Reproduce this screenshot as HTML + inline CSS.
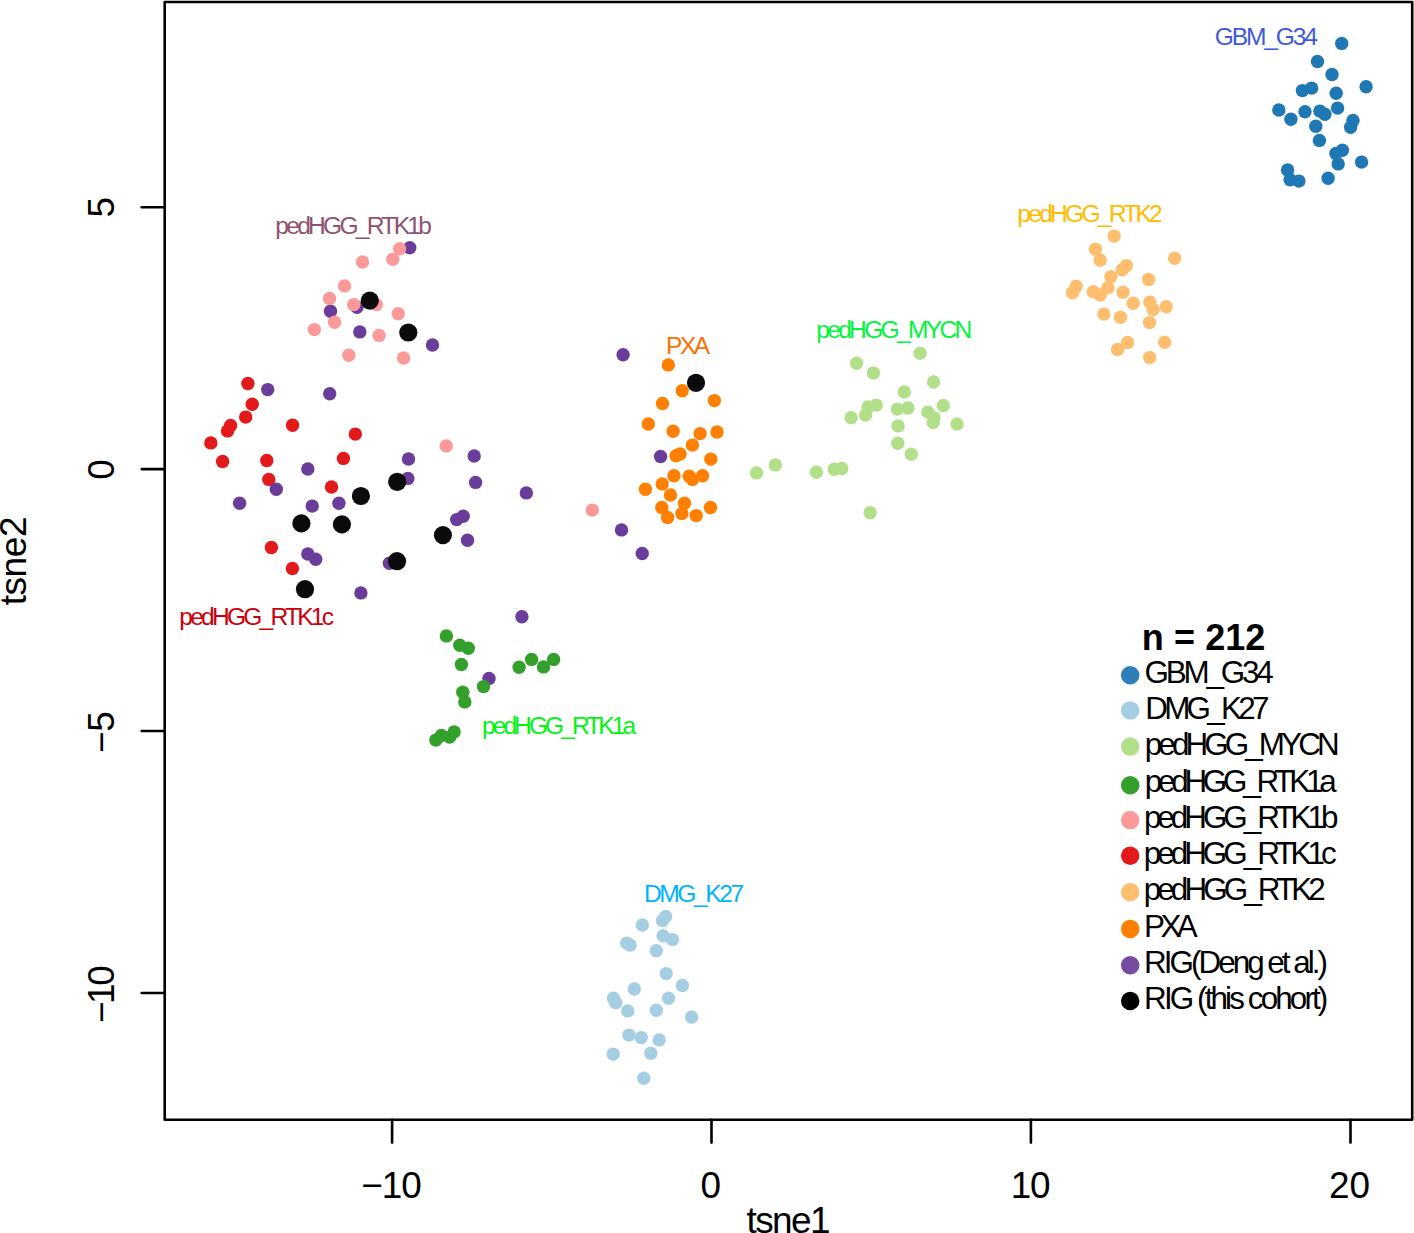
<!DOCTYPE html>
<html><head><meta charset="utf-8"><style>
html,body{margin:0;padding:0;background:#fff;overflow:hidden;}
svg{display:block;}
text{font-family:"Liberation Sans",sans-serif;}
</style></head><body>
<svg width="1414" height="1233" viewBox="0 0 1414 1233">
<rect width="1414" height="1233" fill="#fff"/>
<circle cx="1341.7" cy="43.4" r="6.7" fill="#1F78B4"/><circle cx="1317.5" cy="61.5" r="6.7" fill="#1F78B4"/><circle cx="1332.0" cy="74.5" r="6.7" fill="#1F78B4"/><circle cx="1366.1" cy="86.7" r="6.7" fill="#1F78B4"/><circle cx="1302.4" cy="90.6" r="6.7" fill="#1F78B4"/><circle cx="1311.6" cy="88.1" r="6.7" fill="#1F78B4"/><circle cx="1336.2" cy="93.2" r="6.7" fill="#1F78B4"/><circle cx="1278.8" cy="110.0" r="6.7" fill="#1F78B4"/><circle cx="1290.9" cy="119.3" r="6.7" fill="#1F78B4"/><circle cx="1305.0" cy="111.7" r="6.7" fill="#1F78B4"/><circle cx="1319.9" cy="111.1" r="6.7" fill="#1F78B4"/><circle cx="1324.9" cy="114.3" r="6.7" fill="#1F78B4"/><circle cx="1337.6" cy="108.1" r="6.7" fill="#1F78B4"/><circle cx="1353.0" cy="120.4" r="6.7" fill="#1F78B4"/><circle cx="1350.6" cy="127.3" r="6.7" fill="#1F78B4"/><circle cx="1315.8" cy="126.3" r="6.7" fill="#1F78B4"/><circle cx="1319.4" cy="140.4" r="6.7" fill="#1F78B4"/><circle cx="1335.9" cy="153.5" r="6.7" fill="#1F78B4"/><circle cx="1342.4" cy="150.3" r="6.7" fill="#1F78B4"/><circle cx="1338.2" cy="163.9" r="6.7" fill="#1F78B4"/><circle cx="1361.6" cy="162.1" r="6.7" fill="#1F78B4"/><circle cx="1287.6" cy="169.9" r="6.7" fill="#1F78B4"/><circle cx="1290.1" cy="179.8" r="6.7" fill="#1F78B4"/><circle cx="1298.9" cy="181.1" r="6.7" fill="#1F78B4"/><circle cx="1328.1" cy="178.2" r="6.7" fill="#1F78B4"/><circle cx="665.6" cy="916.5" r="6.7" fill="#A6CEE3"/><circle cx="662.5" cy="920.5" r="6.7" fill="#A6CEE3"/><circle cx="642.3" cy="925.0" r="6.7" fill="#A6CEE3"/><circle cx="663.1" cy="935.7" r="6.7" fill="#A6CEE3"/><circle cx="672.5" cy="939.6" r="6.7" fill="#A6CEE3"/><circle cx="626.6" cy="943.1" r="6.7" fill="#A6CEE3"/><circle cx="630.1" cy="945.1" r="6.7" fill="#A6CEE3"/><circle cx="656.3" cy="950.8" r="6.7" fill="#A6CEE3"/><circle cx="666.2" cy="973.6" r="6.7" fill="#A6CEE3"/><circle cx="682.4" cy="985.5" r="6.7" fill="#A6CEE3"/><circle cx="634.3" cy="989.0" r="6.7" fill="#A6CEE3"/><circle cx="613.5" cy="998.3" r="6.7" fill="#A6CEE3"/><circle cx="615.8" cy="1002.8" r="6.7" fill="#A6CEE3"/><circle cx="668.6" cy="998.3" r="6.7" fill="#A6CEE3"/><circle cx="627.7" cy="1010.9" r="6.7" fill="#A6CEE3"/><circle cx="656.3" cy="1010.2" r="6.7" fill="#A6CEE3"/><circle cx="691.6" cy="1017.1" r="6.7" fill="#A6CEE3"/><circle cx="628.9" cy="1035.1" r="6.7" fill="#A6CEE3"/><circle cx="641.2" cy="1037.6" r="6.7" fill="#A6CEE3"/><circle cx="659.2" cy="1039.9" r="6.7" fill="#A6CEE3"/><circle cx="613.2" cy="1054.1" r="6.7" fill="#A6CEE3"/><circle cx="650.8" cy="1053.3" r="6.7" fill="#A6CEE3"/><circle cx="643.8" cy="1078.2" r="6.7" fill="#A6CEE3"/><circle cx="920.1" cy="353.3" r="6.7" fill="#B2DF8A"/><circle cx="856.6" cy="363.3" r="6.7" fill="#B2DF8A"/><circle cx="873.4" cy="372.9" r="6.7" fill="#B2DF8A"/><circle cx="933.6" cy="382.0" r="6.7" fill="#B2DF8A"/><circle cx="904.3" cy="392.0" r="6.7" fill="#B2DF8A"/><circle cx="876.3" cy="405.1" r="6.7" fill="#B2DF8A"/><circle cx="868.0" cy="407.0" r="6.7" fill="#B2DF8A"/><circle cx="865.6" cy="415.1" r="6.7" fill="#B2DF8A"/><circle cx="851.1" cy="417.7" r="6.7" fill="#B2DF8A"/><circle cx="897.3" cy="409.1" r="6.7" fill="#B2DF8A"/><circle cx="907.9" cy="408.0" r="6.7" fill="#B2DF8A"/><circle cx="943.3" cy="405.5" r="6.7" fill="#B2DF8A"/><circle cx="927.9" cy="412.1" r="6.7" fill="#B2DF8A"/><circle cx="934.0" cy="417.7" r="6.7" fill="#B2DF8A"/><circle cx="933.2" cy="422.6" r="6.7" fill="#B2DF8A"/><circle cx="957.1" cy="423.9" r="6.7" fill="#B2DF8A"/><circle cx="898.1" cy="425.9" r="6.7" fill="#B2DF8A"/><circle cx="897.8" cy="443.3" r="6.7" fill="#B2DF8A"/><circle cx="911.3" cy="454.3" r="6.7" fill="#B2DF8A"/><circle cx="775.3" cy="464.9" r="6.7" fill="#B2DF8A"/><circle cx="756.6" cy="472.9" r="6.7" fill="#B2DF8A"/><circle cx="816.4" cy="472.2" r="6.7" fill="#B2DF8A"/><circle cx="834.3" cy="469.3" r="6.7" fill="#B2DF8A"/><circle cx="841.7" cy="468.5" r="6.7" fill="#B2DF8A"/><circle cx="870.1" cy="512.7" r="6.7" fill="#B2DF8A"/><circle cx="1114.2" cy="236.1" r="6.7" fill="#FDBF6F"/><circle cx="1095.4" cy="249.2" r="6.7" fill="#FDBF6F"/><circle cx="1100.1" cy="260.2" r="6.7" fill="#FDBF6F"/><circle cx="1174.7" cy="258.2" r="6.7" fill="#FDBF6F"/><circle cx="1126.4" cy="265.6" r="6.7" fill="#FDBF6F"/><circle cx="1122.2" cy="269.8" r="6.7" fill="#FDBF6F"/><circle cx="1110.9" cy="276.8" r="6.7" fill="#FDBF6F"/><circle cx="1148.6" cy="279.5" r="6.7" fill="#FDBF6F"/><circle cx="1076.2" cy="286.3" r="6.7" fill="#FDBF6F"/><circle cx="1072.5" cy="292.8" r="6.7" fill="#FDBF6F"/><circle cx="1093.3" cy="291.8" r="6.7" fill="#FDBF6F"/><circle cx="1100.3" cy="295.0" r="6.7" fill="#FDBF6F"/><circle cx="1107.9" cy="287.8" r="6.7" fill="#FDBF6F"/><circle cx="1123.0" cy="292.2" r="6.7" fill="#FDBF6F"/><circle cx="1133.2" cy="303.3" r="6.7" fill="#FDBF6F"/><circle cx="1149.9" cy="302.2" r="6.7" fill="#FDBF6F"/><circle cx="1153.1" cy="309.6" r="6.7" fill="#FDBF6F"/><circle cx="1166.2" cy="306.7" r="6.7" fill="#FDBF6F"/><circle cx="1103.9" cy="314.1" r="6.7" fill="#FDBF6F"/><circle cx="1120.5" cy="317.2" r="6.7" fill="#FDBF6F"/><circle cx="1149.5" cy="322.6" r="6.7" fill="#FDBF6F"/><circle cx="1127.6" cy="342.5" r="6.7" fill="#FDBF6F"/><circle cx="1117.6" cy="349.5" r="6.7" fill="#FDBF6F"/><circle cx="1164.7" cy="342.3" r="6.7" fill="#FDBF6F"/><circle cx="1149.7" cy="357.6" r="6.7" fill="#FDBF6F"/><circle cx="668.3" cy="364.9" r="6.7" fill="#FF7F00"/><circle cx="682.2" cy="390.8" r="6.7" fill="#FF7F00"/><circle cx="714.4" cy="400.6" r="6.7" fill="#FF7F00"/><circle cx="662.5" cy="403.5" r="6.7" fill="#FF7F00"/><circle cx="648.3" cy="424.0" r="6.7" fill="#FF7F00"/><circle cx="673.1" cy="431.3" r="6.7" fill="#FF7F00"/><circle cx="700.1" cy="433.6" r="6.7" fill="#FF7F00"/><circle cx="717.0" cy="432.0" r="6.7" fill="#FF7F00"/><circle cx="692.4" cy="445.1" r="6.7" fill="#FF7F00"/><circle cx="676.1" cy="455.8" r="6.7" fill="#FF7F00"/><circle cx="680.0" cy="454.0" r="6.7" fill="#FF7F00"/><circle cx="710.8" cy="459.1" r="6.7" fill="#FF7F00"/><circle cx="674.0" cy="475.7" r="6.7" fill="#FF7F00"/><circle cx="689.2" cy="476.2" r="6.7" fill="#FF7F00"/><circle cx="692.4" cy="479.4" r="6.7" fill="#FF7F00"/><circle cx="702.5" cy="475.7" r="6.7" fill="#FF7F00"/><circle cx="662.2" cy="483.9" r="6.7" fill="#FF7F00"/><circle cx="645.4" cy="489.3" r="6.7" fill="#FF7F00"/><circle cx="670.5" cy="495.0" r="6.7" fill="#FF7F00"/><circle cx="661.8" cy="507.5" r="6.7" fill="#FF7F00"/><circle cx="684.5" cy="503.2" r="6.7" fill="#FF7F00"/><circle cx="681.9" cy="513.4" r="6.7" fill="#FF7F00"/><circle cx="667.6" cy="517.5" r="6.7" fill="#FF7F00"/><circle cx="696.2" cy="515.6" r="6.7" fill="#FF7F00"/><circle cx="710.5" cy="507.5" r="6.7" fill="#FF7F00"/><circle cx="247.9" cy="383.5" r="6.7" fill="#E31A1C"/><circle cx="252.2" cy="404.3" r="6.7" fill="#E31A1C"/><circle cx="245.7" cy="417.1" r="6.7" fill="#E31A1C"/><circle cx="230.6" cy="425.5" r="6.7" fill="#E31A1C"/><circle cx="227.5" cy="430.9" r="6.7" fill="#E31A1C"/><circle cx="292.6" cy="425.2" r="6.7" fill="#E31A1C"/><circle cx="210.8" cy="442.9" r="6.7" fill="#E31A1C"/><circle cx="222.6" cy="461.5" r="6.7" fill="#E31A1C"/><circle cx="266.8" cy="460.5" r="6.7" fill="#E31A1C"/><circle cx="343.4" cy="458.4" r="6.7" fill="#E31A1C"/><circle cx="268.8" cy="479.4" r="6.7" fill="#E31A1C"/><circle cx="331.5" cy="487.0" r="6.7" fill="#E31A1C"/><circle cx="355.3" cy="434.1" r="6.7" fill="#E31A1C"/><circle cx="271.4" cy="547.5" r="6.7" fill="#E31A1C"/><circle cx="292.4" cy="568.5" r="6.7" fill="#E31A1C"/><circle cx="409.8" cy="247.8" r="6.7" fill="#6A3D9A"/><circle cx="330.5" cy="311.2" r="6.7" fill="#6A3D9A"/><circle cx="357.0" cy="307.2" r="6.7" fill="#6A3D9A"/><circle cx="359.8" cy="331.9" r="6.7" fill="#6A3D9A"/><circle cx="432.5" cy="345.0" r="6.7" fill="#6A3D9A"/><circle cx="267.7" cy="389.6" r="6.7" fill="#6A3D9A"/><circle cx="329.7" cy="393.8" r="6.7" fill="#6A3D9A"/><circle cx="307.8" cy="469.0" r="6.7" fill="#6A3D9A"/><circle cx="276.3" cy="489.3" r="6.7" fill="#6A3D9A"/><circle cx="239.6" cy="503.3" r="6.7" fill="#6A3D9A"/><circle cx="312.2" cy="506.1" r="6.7" fill="#6A3D9A"/><circle cx="338.9" cy="503.3" r="6.7" fill="#6A3D9A"/><circle cx="408.5" cy="459.0" r="6.7" fill="#6A3D9A"/><circle cx="474.2" cy="456.0" r="6.7" fill="#6A3D9A"/><circle cx="407.9" cy="478.4" r="6.7" fill="#6A3D9A"/><circle cx="475.6" cy="482.4" r="6.7" fill="#6A3D9A"/><circle cx="463.2" cy="516.2" r="6.7" fill="#6A3D9A"/><circle cx="456.7" cy="519.6" r="6.7" fill="#6A3D9A"/><circle cx="467.5" cy="540.2" r="6.7" fill="#6A3D9A"/><circle cx="389.4" cy="563.2" r="6.7" fill="#6A3D9A"/><circle cx="360.9" cy="592.9" r="6.7" fill="#6A3D9A"/><circle cx="307.8" cy="554.0" r="6.7" fill="#6A3D9A"/><circle cx="315.7" cy="559.2" r="6.7" fill="#6A3D9A"/><circle cx="521.9" cy="616.7" r="6.7" fill="#6A3D9A"/><circle cx="489.0" cy="678.5" r="6.7" fill="#6A3D9A"/><circle cx="623.1" cy="354.7" r="6.7" fill="#6A3D9A"/><circle cx="526.3" cy="492.9" r="6.7" fill="#6A3D9A"/><circle cx="621.5" cy="529.9" r="6.7" fill="#6A3D9A"/><circle cx="642.2" cy="553.5" r="6.7" fill="#6A3D9A"/><circle cx="660.6" cy="456.5" r="6.7" fill="#6A3D9A"/><circle cx="399.6" cy="248.7" r="6.7" fill="#FB9A99"/><circle cx="392.8" cy="259.2" r="6.7" fill="#FB9A99"/><circle cx="362.5" cy="262.0" r="6.7" fill="#FB9A99"/><circle cx="344.5" cy="285.9" r="6.7" fill="#FB9A99"/><circle cx="329.5" cy="298.5" r="6.7" fill="#FB9A99"/><circle cx="334.6" cy="322.2" r="6.7" fill="#FB9A99"/><circle cx="353.8" cy="304.6" r="6.7" fill="#FB9A99"/><circle cx="376.3" cy="304.6" r="6.7" fill="#FB9A99"/><circle cx="398.2" cy="313.8" r="6.7" fill="#FB9A99"/><circle cx="314.4" cy="329.6" r="6.7" fill="#FB9A99"/><circle cx="379.1" cy="335.4" r="6.7" fill="#FB9A99"/><circle cx="348.8" cy="355.3" r="6.7" fill="#FB9A99"/><circle cx="403.6" cy="358.0" r="6.7" fill="#FB9A99"/><circle cx="446.2" cy="445.9" r="6.7" fill="#FB9A99"/><circle cx="592.3" cy="510.1" r="6.7" fill="#FB9A99"/><circle cx="446.4" cy="635.9" r="6.7" fill="#33A02C"/><circle cx="459.8" cy="645.3" r="6.7" fill="#33A02C"/><circle cx="468.3" cy="648.3" r="6.7" fill="#33A02C"/><circle cx="461.4" cy="664.5" r="6.7" fill="#33A02C"/><circle cx="519.1" cy="667.2" r="6.7" fill="#33A02C"/><circle cx="531.6" cy="659.4" r="6.7" fill="#33A02C"/><circle cx="543.5" cy="666.9" r="6.7" fill="#33A02C"/><circle cx="553.6" cy="659.4" r="6.7" fill="#33A02C"/><circle cx="483.5" cy="686.6" r="6.7" fill="#33A02C"/><circle cx="462.8" cy="692.2" r="6.7" fill="#33A02C"/><circle cx="464.8" cy="701.9" r="6.7" fill="#33A02C"/><circle cx="435.8" cy="740.1" r="6.7" fill="#33A02C"/><circle cx="441.3" cy="735.4" r="6.7" fill="#33A02C"/><circle cx="449.6" cy="737.1" r="6.7" fill="#33A02C"/><circle cx="454.1" cy="732.0" r="6.7" fill="#33A02C"/><circle cx="696.0" cy="382.8" r="9.1" fill="#0B0A0D"/><circle cx="369.8" cy="300.6" r="9.1" fill="#0B0A0D"/><circle cx="408.3" cy="332.5" r="9.1" fill="#0B0A0D"/><circle cx="397.2" cy="481.8" r="9.1" fill="#0B0A0D"/><circle cx="360.9" cy="496.0" r="9.1" fill="#0B0A0D"/><circle cx="301.4" cy="523.4" r="9.1" fill="#0B0A0D"/><circle cx="341.9" cy="524.4" r="9.1" fill="#0B0A0D"/><circle cx="442.9" cy="535.1" r="9.1" fill="#0B0A0D"/><circle cx="397.0" cy="561.2" r="9.1" fill="#0B0A0D"/><circle cx="305.0" cy="589.2" r="9.1" fill="#0B0A0D"/>
<circle cx="1130.2" cy="675.3" r="9.25" fill="#2E7EBA"/><circle cx="1130.2" cy="710.4" r="9.25" fill="#A6CEE3"/><circle cx="1130.2" cy="746.6" r="9.25" fill="#B2DF8A"/><circle cx="1130.2" cy="785.3" r="9.25" fill="#33A02C"/><circle cx="1130.2" cy="820.1" r="9.25" fill="#FB9A99"/><circle cx="1130.2" cy="855.8" r="9.25" fill="#E31A1C"/><circle cx="1130.2" cy="892.3" r="9.25" fill="#FDBF6F"/><circle cx="1130.2" cy="928.9" r="9.25" fill="#FF7F00"/><circle cx="1130.2" cy="965.2" r="9.25" fill="#764CA0"/><circle cx="1130.2" cy="1001.0" r="9.25" fill="#000000"/>
<rect x="164.7" y="2.0" width="1247.5" height="1117.7" fill="none" stroke="#000" stroke-width="2.6" stroke-linejoin="round"/><line x1="392.1" y1="1119.7" x2="392.1" y2="1142.6" stroke="#000" stroke-width="2.6" stroke-linecap="round"/><line x1="711.5" y1="1119.7" x2="711.5" y2="1142.6" stroke="#000" stroke-width="2.6" stroke-linecap="round"/><line x1="1030.9" y1="1119.7" x2="1030.9" y2="1142.6" stroke="#000" stroke-width="2.6" stroke-linecap="round"/><line x1="1350.5" y1="1119.7" x2="1350.5" y2="1142.6" stroke="#000" stroke-width="2.6" stroke-linecap="round"/><line x1="164.7" y1="207.3" x2="141.7" y2="207.3" stroke="#000" stroke-width="2.6" stroke-linecap="round"/><line x1="164.7" y1="469.1" x2="141.7" y2="469.1" stroke="#000" stroke-width="2.6" stroke-linecap="round"/><line x1="164.7" y1="731.0" x2="141.7" y2="731.0" stroke="#000" stroke-width="2.6" stroke-linecap="round"/><line x1="164.7" y1="993.0" x2="141.7" y2="993.0" stroke="#000" stroke-width="2.6" stroke-linecap="round"/>
<text x="1214.66" y="45.0" font-size="24.6" fill="#3F5AD8" textLength="103.34" lengthAdjust="spacing">GBM_G34</text>
<text x="1017.31" y="221.9" font-size="24.6" fill="#FFBB00" textLength="145.46" lengthAdjust="spacing">pedHGG_RTK2</text>
<text x="816.21" y="338.4" font-size="24.6" fill="#00F53C" textLength="156.07" lengthAdjust="spacing">pedHGG_MYCN</text>
<text x="666.08" y="353.9" font-size="24.6" fill="#FF6F00" textLength="44.19" lengthAdjust="spacing">PXA</text>
<text x="275.31" y="234.1" font-size="24.6" fill="#8E5270" textLength="156.58" lengthAdjust="spacing">pedHGG_RTK1b</text>
<text x="179.31" y="624.8" font-size="24.6" fill="#CC000C" textLength="154.65" lengthAdjust="spacing">pedHGG_RTK1c</text>
<text x="482.01" y="733.8" font-size="24.6" fill="#00F514" textLength="154.10" lengthAdjust="spacing">pedHGG_RTK1a</text>
<text x="643.98" y="901.7" font-size="24.6" fill="#00B2FF" textLength="100.11" lengthAdjust="spacing">DMG_K27</text>
<text x="1141.73" y="649.9" font-size="36.0" font-weight="bold" fill="#000" textLength="123.66" lengthAdjust="spacing">n = 212</text>
<text x="361.28" y="1197.8" font-size="36.9" fill="#000" textLength="60.60" lengthAdjust="spacing">−10</text>
<text x="700.56" y="1197.8" font-size="36.9" fill="#000">0</text>
<text x="1010.79" y="1197.8" font-size="36.9" fill="#000" textLength="39.82" lengthAdjust="spacing">10</text>
<text x="1329.04" y="1197.8" font-size="36.9" fill="#000" textLength="40.91" lengthAdjust="spacing">20</text>
<text transform="translate(113.6 217.48) rotate(-90)" font-size="36.9" fill="#000">5</text>
<text transform="translate(113.6 479.64) rotate(-90)" font-size="36.9" fill="#000">0</text>
<text transform="translate(113.6 752.92) rotate(-90)" font-size="36.9" fill="#000" textLength="41.75" lengthAdjust="spacing">−5</text>
<text transform="translate(113.6 1023.12) rotate(-90)" font-size="36.9" fill="#000" textLength="57.96" lengthAdjust="spacing">−10</text>
<text x="746.44" y="1232.5" font-size="37.0" fill="#000" textLength="84.26" lengthAdjust="spacing">tsne1</text>
<text transform="translate(26.1 605.36) rotate(-90)" font-size="37.0" fill="#000" textLength="88.95" lengthAdjust="spacing">tsne2</text>
<text x="1144.42" y="683.0" font-size="31.4" fill="#000" textLength="129.42" lengthAdjust="spacing">GBM_G34</text>
<text x="1145.22" y="719.2" font-size="31.4" fill="#000" textLength="124.31" lengthAdjust="spacing">DMG_K27</text>
<text x="1144.78" y="755.4" font-size="31.4" fill="#000" textLength="194.80" lengthAdjust="spacing">pedHGG_MYCN</text>
<text x="1144.78" y="791.7" font-size="31.4" fill="#000" textLength="191.85" lengthAdjust="spacing">pedHGG_RTK1a</text>
<text x="1143.88" y="827.9" font-size="31.4" fill="#000" textLength="194.55" lengthAdjust="spacing">pedHGG_RTK1b</text>
<text x="1143.68" y="864.1" font-size="31.4" fill="#000" textLength="193.00" lengthAdjust="spacing">pedHGG_RTK1c</text>
<text x="1143.68" y="900.3" font-size="31.4" fill="#000" textLength="182.09" lengthAdjust="spacing">pedHGG_RTK2</text>
<text x="1144.12" y="936.5" font-size="31.4" fill="#000" textLength="53.60" lengthAdjust="spacing">PXA</text>
<text x="1144.12" y="972.8" font-size="31.4" fill="#000" textLength="183.93" lengthAdjust="spacing">RIG(Deng et al.)</text>
<text x="1144.12" y="1009.0" font-size="31.4" fill="#000" textLength="184.19" lengthAdjust="spacing">RIG (this cohort)</text>
</svg>
</body></html>
